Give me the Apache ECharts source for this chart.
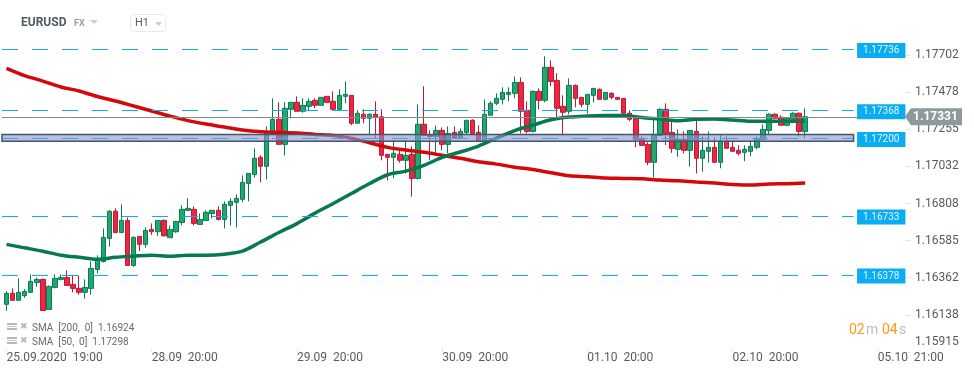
<!DOCTYPE html>
<html>
<head>
<meta charset="utf-8">
<title>EURUSD H1</title>
<script src="https://cdn.jsdelivr.net/npm/echarts@6/dist/echarts.min.js"></script>
<style>
  html, body { margin: 0; padding: 0; background: #fff; }
  #chart { width: 974px; height: 375px; }
</style>
</head>
<body>
<div id="chart"></div>
<script>
// H1 candles
const opens = [
  1.16202,1.16268,1.16226,1.16254,1.16274,1.16334,1.16352,1.16171,1.16304,1.16352,
  1.16364,1.16322,1.16298,1.16274,1.16298,1.16412,1.16460,1.16599,1.16762,1.16635,
  1.16707,1.16436,1.16611,1.16563,1.16653,1.16639,1.16707,1.16603,1.16639,1.16695,
  1.16768,1.16774,1.16683,1.16707,1.16749,1.16768,1.16713,1.16798,1.16816,1.16834,
  1.16930,1.16984,1.17087,1.17033,1.17231,1.17316,1.17165,1.17376,1.17418,1.17364,
  1.17394,1.17430,1.17400,1.17454,1.17424,1.17376,1.17454,1.17460,1.17292,1.17346,
  1.17322,1.17346,1.17331,1.17105,1.17087,1.17105,1.17069,1.17105,1.16960,1.17286,
  1.17219,1.17213,1.17249,1.17165,1.17237,1.17201,1.17237,1.17310,1.17237,1.17183,
  1.17340,1.17412,1.17436,1.17466,1.17472,1.17538,1.17370,1.17243,1.17484,1.17430,
  1.17629,1.17550,1.17394,1.17364,1.17520,1.17448,1.17406,1.17460,1.17496,1.17436,
  1.17472,1.17448,1.17442,1.17352,1.17322,1.17201,1.17165,1.17057,1.17219,1.17376,
  1.17237,1.17135,1.17195,1.17129,1.17243,1.17081,1.17123,1.17147,1.17057,1.17183,
  1.17147,1.17129,1.17117,1.17123,1.17147,1.17195,1.17249,1.17346,1.17328,1.17280,
  1.17316,1.17352,1.17243
];
const closes = [
  1.16268,1.16226,1.16274,1.16280,1.16340,1.16352,1.16165,1.16310,1.16358,1.16364,
  1.16316,1.16298,1.16274,1.16304,1.16418,1.16472,1.16605,1.16762,1.16635,1.16707,
  1.16436,1.16605,1.16563,1.16647,1.16639,1.16707,1.16614,1.16653,1.16701,1.16774,
  1.16780,1.16689,1.16713,1.16756,1.16768,1.16713,1.16804,1.16822,1.16840,1.16936,
  1.16990,1.17081,1.17033,1.17243,1.17316,1.17165,1.17382,1.17418,1.17364,1.17400,
  1.17424,1.17400,1.17448,1.17418,1.17376,1.17460,1.17466,1.17292,1.17352,1.17322,
  1.17346,1.17328,1.17099,1.17087,1.17111,1.17069,1.17099,1.16960,1.17286,1.17219,
  1.17213,1.17249,1.17165,1.17231,1.17201,1.17243,1.17310,1.17231,1.17183,1.17346,
  1.17412,1.17442,1.17478,1.17478,1.17538,1.17364,1.17243,1.17484,1.17430,1.17629,
  1.17544,1.17382,1.17358,1.17520,1.17442,1.17406,1.17466,1.17502,1.17436,1.17478,
  1.17448,1.17436,1.17352,1.17316,1.17195,1.17159,1.17057,1.17225,1.17376,1.17231,
  1.17141,1.17195,1.17129,1.17249,1.17081,1.17129,1.17147,1.17057,1.17183,1.17141,
  1.17123,1.17111,1.17135,1.17153,1.17201,1.17255,1.17346,1.17322,1.17280,1.17322,
  1.17352,1.17243,1.17331
];
const lows = [
  1.16163,1.16226,1.16226,1.16241,1.16274,1.16308,1.16165,1.16171,1.16298,1.16346,
  1.16316,1.16274,1.16260,1.16236,1.16260,1.16388,1.16454,1.16549,1.16629,1.16629,
  1.16436,1.16428,1.16523,1.16543,1.16620,1.16614,1.16614,1.16603,1.16633,1.16677,
  1.16762,1.16677,1.16683,1.16707,1.16719,1.16707,1.16659,1.16677,1.16665,1.16816,
  1.16822,1.16966,1.16936,1.16954,1.17231,1.17165,1.17099,1.17322,1.17364,1.17356,
  1.17364,1.17382,1.17400,1.17412,1.17372,1.17370,1.17412,1.17280,1.17292,1.17292,
  1.17225,1.17201,1.17069,1.16948,1.16960,1.17055,1.16990,1.16850,1.16954,1.17219,
  1.17069,1.17111,1.17129,1.17111,1.17201,1.17201,1.17227,1.17231,1.17177,1.17183,
  1.17340,1.17400,1.17406,1.17424,1.17442,1.17231,1.17231,1.17237,1.17376,1.17418,
  1.17514,1.17322,1.17219,1.17346,1.17388,1.17388,1.17352,1.17418,1.17436,1.17430,
  1.17436,1.17436,1.17346,1.17304,1.17147,1.17159,1.17039,1.16966,1.17219,1.17161,
  1.17114,1.17090,1.17111,1.17031,1.16990,1.17000,1.17055,1.17057,1.17021,1.17141,
  1.17123,1.17099,1.17063,1.17093,1.17135,1.17195,1.17223,1.17316,1.17280,1.17274,
  1.17292,1.17213,1.17201
];
const highs = [
  1.16282,1.16298,1.16358,1.16294,1.16382,1.16364,1.16358,1.16316,1.16382,1.16382,
  1.16406,1.16376,1.16376,1.16352,1.16460,1.16497,1.16659,1.16770,1.16780,1.16804,
  1.16725,1.16611,1.16611,1.16665,1.16689,1.16707,1.16713,1.16677,1.16701,1.16798,
  1.16840,1.16792,1.16749,1.16768,1.16768,1.16792,1.16822,1.16840,1.16864,1.16978,
  1.16990,1.17141,1.17099,1.17273,1.17442,1.17418,1.17418,1.17418,1.17454,1.17442,
  1.17442,1.17442,1.17448,1.17454,1.17484,1.17496,1.17544,1.17460,1.17370,1.17376,
  1.17352,1.17424,1.17376,1.17105,1.17189,1.17135,1.17189,1.17153,1.17406,1.17514,
  1.17249,1.17279,1.17267,1.17273,1.17273,1.17261,1.17310,1.17316,1.17279,1.17436,
  1.17424,1.17472,1.17508,1.17508,1.17574,1.17568,1.17424,1.17490,1.17502,1.17695,
  1.17671,1.17593,1.17460,1.17562,1.17526,1.17448,1.17466,1.17502,1.17502,1.17478,
  1.17478,1.17448,1.17442,1.17370,1.17322,1.17213,1.17177,1.17316,1.17382,1.17412,
  1.17301,1.17255,1.17243,1.17249,1.17328,1.17213,1.17243,1.17207,1.17225,1.17213,
  1.17189,1.17159,1.17159,1.17183,1.17213,1.17285,1.17352,1.17352,1.17340,1.17328,
  1.17358,1.17358,1.17382
];

// moving averages, read at every third bar
const smaStep = 3;
const sma200 = [
  1.17623,1.17579,1.17546,1.17510,1.17486,1.17453,1.17426,1.17396,1.17366,1.17335,
  1.17308,1.17287,1.17269,1.17251,1.17241,1.17237,1.17233,1.17225,1.17219,1.17201,
  1.17175,1.17147,1.17131,1.17117,1.17099,1.17081,1.17060,1.17046,1.17027,1.17014,
  1.16994,1.16976,1.16970,1.16962,1.16960,1.16958,1.16950,1.16946,1.16938,1.16932,
  1.16924,1.16920,1.16926,1.16928,1.16932
];
const sma50 = [
  1.16563,1.16542,1.16522,1.16498,1.16485,1.16473,1.16485,1.16492,1.16498,1.16492,
  1.16498,1.16498,1.16504,1.16522,1.16577,1.16634,1.16688,1.16751,1.16809,1.16869,
  1.16929,1.16982,1.17004,1.17039,1.17086,1.17119,1.17155,1.17203,1.17248,1.17281,
  1.17313,1.17329,1.17335,1.17338,1.17338,1.17326,1.17317,1.17307,1.17316,1.17317,
  1.17311,1.17304,1.17304,1.17304,1.17305
];

// price levels and the shaded zone
const levels = [1.17736, 1.17368, 1.17200, 1.16733, 1.16378];
const lastPrice = 1.17331;
const zoneTop = 1.17224;
const zoneBottom = 1.17183;

// axes
const barCount = 149;
const levelEndBar = 140;
const yTicks = [1.15915, 1.16138, 1.16362, 1.16585, 1.16808, 1.17032, 1.17255, 1.17478, 1.17702];
const timeTicks = {
  0: '25.09.2020  19:00',
  24: '28.09  20:00',
  48: '29.09  20:00',
  72: '30.09  20:00',
  96: '01.10  20:00',
  120: '02.10  20:00',
  144: '05.10  21:00'
};
const categories = Array.from({ length: barCount }, (_, i) => String(i));

const FONT = 'Roboto';
const myChart = echarts.init(document.getElementById('chart'), null, { renderer: 'canvas' });

const levelLines = levels.map((v) => [
  {
    x: 2, yAxis: v,
    lineStyle: { color: '#12aaf0', width: 1, type: [16, 14] },
    label: {
      show: true, position: 'end', distance: 3.5, formatter: v.toFixed(5),
      backgroundColor: '#0aacf2', color: '#e4f6ff', fontFamily: FONT, fontSize: 10,
      padding: [0, 6, 0, 6], height: 15, lineHeight: 15, align: 'left', verticalAlign: 'middle',
      offset: [0, 1]
    }
  },
  { xAxis: levelEndBar, yAxis: v }
]);

function tri(x, y, w, h, color) {
  return {
    type: 'polygon',
    shape: { points: [[x, y], [x + w, y], [x + w / 2, y + h]] },
    style: { fill: color },
    silent: true
  };
}
function txt(x, y, text, font, color) {
  return {
    type: 'text', x: x, y: y,
    style: { text: text, font: font, fill: color, textVerticalAlign: 'middle' },
    silent: true
  };
}
function smaIcon(y) {
  return [
    { type: 'rect', shape: { x: 7, y: y, width: 10, height: 2 }, style: { fill: '#b4b8bb' } },
    { type: 'rect', shape: { x: 7, y: y + 3, width: 10, height: 1 }, style: { fill: '#c4c7c9' } },
    { type: 'rect', shape: { x: 7, y: y + 5, width: 10, height: 2 }, style: { fill: '#b4b8bb' } },
    txt(20, y + 3.5, '✖', '9px "DejaVu Sans"', '#b4b8bb')
  ];
}

const option = {
  animation: false,
  backgroundColor: '#fff',
  grid: { left: 3.5, right: 69, top: 40, bottom: 23, containLabel: false },
  xAxis: {
    type: 'category',
    data: categories,
    boundaryGap: true,
    axisLine: { show: false },
    axisTick: {
      show: true, alignWithLabel: true, length: 3, inside: true,
      interval: (i) => timeTicks[i] !== undefined,
      lineStyle: { color: '#e8e8e8' }
    },
    splitLine: { show: false },
    axisLabel: {
      show: true, interval: 0, hideOverlap: false, margin: 0, align: 'left',
      color: '#555b63', fontFamily: FONT, fontSize: 12,
      formatter: (value, i) => timeTicks[i] || ''
    }
  },
  yAxis: {
    type: 'value',
    position: 'right',
    min: 1.15915,
    max: 1.177932,
    axisLine: { show: false },
    splitLine: { show: false },
    axisTick: {
      show: true, length: 6, customValues: yTicks,
      lineStyle: { color: '#e6e6e6' }
    },
    axisLabel: {
      show: true, margin: 10, color: '#555b63', fontFamily: FONT, fontSize: 12,
      customValues: yTicks,
      padding: [0, 0, 4, 0],
      verticalAlignMinLabel: 'bottom',
      formatter: (v) => v.toFixed(5)
    }
  },
  series: [
    {
      name: 'EURUSD',
      type: 'candlestick',
      z: 2,
      barWidth: 5,
      clip: false,
      data: opens.map((o, i) => [o, closes[i], lows[i], highs[i]]),
      itemStyle: {
        color: '#1fa870', color0: '#f2243e',
        borderColor: '#0d7a52', borderColor0: '#b81b3b',
        borderWidth: 1
      },
      markLine: {
        silent: true, symbol: 'none', z: 5, animation: false,
        data: [
          [
            { x: 2, yAxis: lastPrice, lineStyle: { color: '#7f8b8c', width: 1, type: 'solid' }, label: { show: false } },
            { xAxis: levelEndBar + 1, yAxis: lastPrice }
          ]
        ].concat(levelLines)
      },
      markArea: {
        silent: true, z: 6, animation: false,
        itemStyle: { color: 'rgba(137,150,207,0.6)', borderColor: '#44566c', borderWidth: 1.5 },
        data: [[{ x: 2, yAxis: zoneTop }, { xAxis: levelEndBar, yAxis: zoneBottom }]]
      },
      markPoint: {
        silent: true, z: 8, animation: false,
        data: [{
          coord: [barCount - 1, lastPrice],
          symbol: 'path://M0 8.5 L6 0 L57 0 L57 17 L6 17 Z',
          symbolSize: [57, 17],
          symbolOffset: [31.5, 0],
          itemStyle: { color: '#8e999c' },
          label: {
            show: true, position: 'inside', formatter: lastPrice.toFixed(5),
            color: '#fff', fontFamily: FONT, fontSize: 12, fontWeight: 'bold', offset: [2, 0]
          }
        }]
      }
    },
    {
      name: 'SMA 200',
      type: 'line',
      z: 3,
      data: sma200.map((v, i) => [i * smaStep, v]),
      showSymbol: false,
      smooth: 0.3,
      lineStyle: { color: '#d40808', width: 3.5 }
    },
    {
      name: 'SMA 50',
      type: 'line',
      z: 3,
      data: sma50.map((v, i) => [i * smaStep, v]),
      showSymbol: false,
      smooth: 0.3,
      lineStyle: { color: '#07794f', width: 3.5 }
    }
  ],
  graphic: [
    txt(21, 23, 'EURUSD', 'bold 12px Roboto', '#4f5b62'),
    txt(74, 24, 'FX', 'bold 9px Roboto', '#8fa0aa'),
    tri(90, 20, 8, 4, '#c9ced1'),
    {
      type: 'rect',
      shape: { x: 130.5, y: 14.5, width: 35, height: 17, r: 3 },
      style: { fill: '#fff', stroke: '#e8e8e8', lineWidth: 1 },
      silent: true
    },
    txt(135, 23.5, 'H1', '11px Roboto', '#5a6068'),
    tri(155, 22, 7, 4, '#c9ced1'),
    ...smaIcon(323),
    ...smaIcon(337),
    txt(32, 328.5, 'SMA  [200,  0]  1.16924', '10px Roboto', '#666c72'),
    txt(32, 342.5, 'SMA  [50,  0]  1.17298', '10px Roboto', '#666c72'),
    txt(849, 330, '02', '14px Roboto', '#ff9a1f'),
    txt(866, 330, 'm', '14px Roboto', '#bdbdbd'),
    txt(882, 330, '04', '14px Roboto', '#ff9a1f'),
    txt(899, 330, 's', '14px Roboto', '#bdbdbd')
  ]
};

myChart.setOption(option);
</script>
</body>
</html>
